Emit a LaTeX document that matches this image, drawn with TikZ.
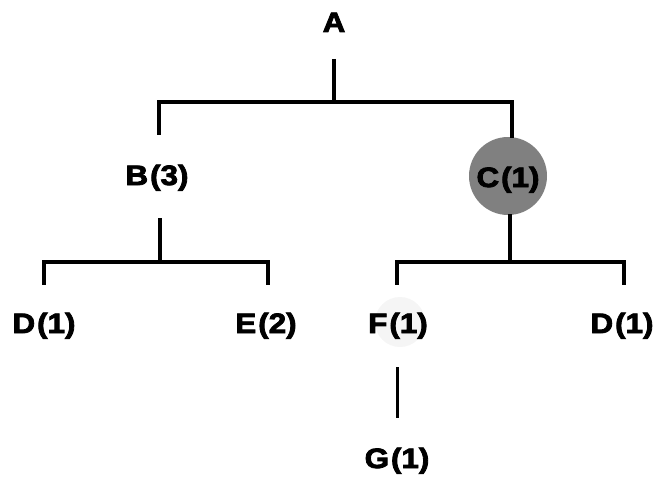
\documentclass[tikz,border=0pt]{standalone}
\usepackage{fontspec}
\setmainfont[BoldFeatures={FakeBold=3,FakeStretch=1.12}]{Liberation Sans}
\begin{document}
\begin{tikzpicture}[x=1pt,y=-1pt,
  lbl/.style={anchor=base,inner sep=0pt,font=\fontsize{28}{28}\selectfont\bfseries},
  conn/.style={line width=3.2pt,line cap=butt,line join=miter}]
\useasboundingbox (0,0) rectangle (655,476);
% shaded highlights
\fill[black!50] (508,176) circle[radius=39];
\fill[black!4] (400,322) circle[radius=25];
% labels
\node[lbl] (A) at (334,32) {A};
\node[lbl] (B) at (157,185) {B\kern2pt(3)};
\node[lbl] (C) at (508,187) {C\kern2pt(1)};
\node[lbl] (D1) at (44,333) {D\kern2pt(1)};
\node[lbl] (E) at (266,333) {E\kern2pt(2)};
\node[lbl] (F) at (398,333) {F\kern2pt(1)};
\node[lbl] (D2) at (622,333) {D\kern2pt(1)};
\node[lbl] (G) at (397,468) {G\kern2pt(1)};
% connector ends
\coordinate (aE) at (334,59);
\coordinate (jA) at (334,102);
\coordinate (bT) at (159,135);
\coordinate (cT) at (512,138);
\coordinate (bE) at (160,218);
\coordinate (jB) at (160,262);
\coordinate (d1T) at (44,285);
\coordinate (eT) at (268,285);
\coordinate (cE) at (510,214);
\coordinate (jC) at (510,262);
\coordinate (fT) at (397,285);
\coordinate (d2T) at (624,285);
\coordinate (fE) at (397,367);
\coordinate (gT) at (397,418);
% connectors
\draw[conn] (aE) -- (jA);
\draw[conn] (jA) -| (bT);
\draw[conn] (jA) -| (cT);
\draw[conn] (bE) -- (jB);
\draw[conn] (jB) -| (d1T);
\draw[conn] (jB) -| (eT);
\draw[conn] (cE) -- (jC);
\draw[conn] (jC) -| (fT);
\draw[conn] (jC) -| (d2T);
\draw[conn,line width=3pt] (fE) -- (gT);
\end{tikzpicture}
\end{document}
